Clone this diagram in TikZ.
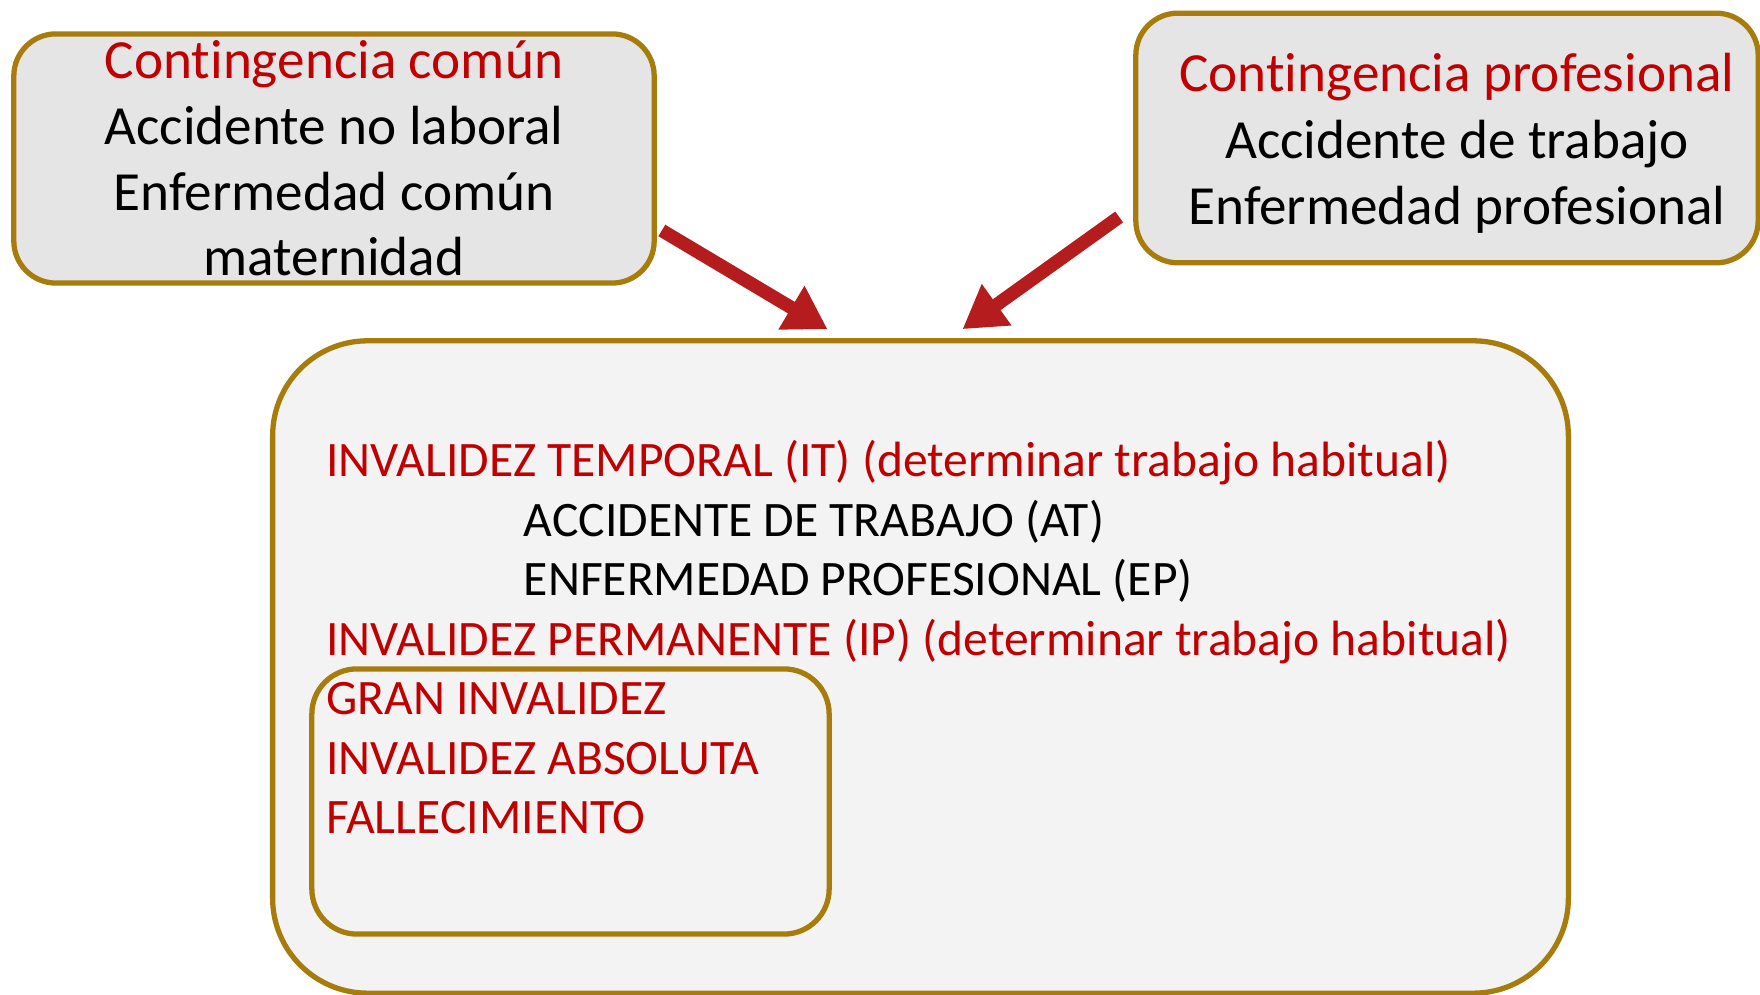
\documentclass[tikz,border=0pt]{standalone}
\usepackage{fontspec}
\setmainfont{Carlito}[Ligatures=NoCommon]
\usetikzlibrary{arrows.meta}
\definecolor{rojo}{RGB}{192,0,0}
\definecolor{oro}{RGB}{168,124,12}
\definecolor{gris}{RGB}{229,229,229}
\definecolor{grisclaro}{RGB}{243,243,243}
\definecolor{flecharoja}{RGB}{180,28,30}
\begin{document}
\begin{tikzpicture}[x=0.01cm,y=-0.01cm,
    caja/.style={draw=oro,line width=1.5pt,rounded corners=0.42cm,fill=gris,align=center,
      font=\fontsize{15.7}{18.64}\selectfont,inner sep=0pt},
    flecha/.style={draw=flecharoja,line width=3.8pt,-{Triangle[length=0.42cm,width=0.48cm]}},
    lista/.style={anchor=base west,align=left,text=rojo,font=\fontsize{14.1}{16.93}\selectfont,inner sep=0pt}]
    \clip (0,0) rectangle (1760,995);
    \fill[white] (0,0) rectangle (1760,995);
    % contingencias
    \node[caja,minimum width=6.4cm,minimum height=2.49cm] (comun) at (334,158.5)
        {\textcolor{rojo}{Contingencia común}\\Accidente no laboral\\Enfermedad común\\maternidad};
    \node[caja,minimum width=6.22cm,minimum height=2.495cm] (profesional) at (1447,138) {};
    \node[align=center,font=\fontsize{15.7}{18.9}\selectfont,inner sep=0pt] (profesionaltexto) at (1457,143.5)
        {\textcolor{rojo}{Contingencia profesional}\\Accidente de trabajo\\Enfermedad profesional};
    % prestaciones
    \node[draw=oro,line width=1.5pt,fill=grisclaro,rounded corners=0.95cm,
        minimum width=12.95cm,minimum height=6.52cm] (prestaciones) at (920.5,667) {};
    \node[draw=oro,line width=1.5pt,rounded corners=0.45cm,
        minimum width=5.17cm,minimum height=2.65cm] (graves) at (570.5,801.5) {};
    \node[lista] (lista) at (325.5,834)
        {INVALIDEZ TEMPORAL (IT) (determinar trabajo habitual)\\
         \hspace*{1.975cm}\textcolor{black}{ACCIDENTE DE TRABAJO (AT)}\\
         \hspace*{1.975cm}\textcolor{black}{ENFERMEDAD PROFESIONAL (EP)}\\
         INVALIDEZ PERMANENTE (IP) (determinar trabajo habitual)\\
         GRAN INVALIDEZ\\
         INVALIDEZ ABSOLUTA\\
         FALLECIMIENTO};
    \draw[flecha] ([shift={(5,72)}]comun.east) -- ([shift={(-93,-9)}]prestaciones.north);
    \draw[flecha] ([shift={(-14,79)}]profesional.west) -- ([shift={(42,-9)}]prestaciones.north);
\end{tikzpicture}
\end{document}
